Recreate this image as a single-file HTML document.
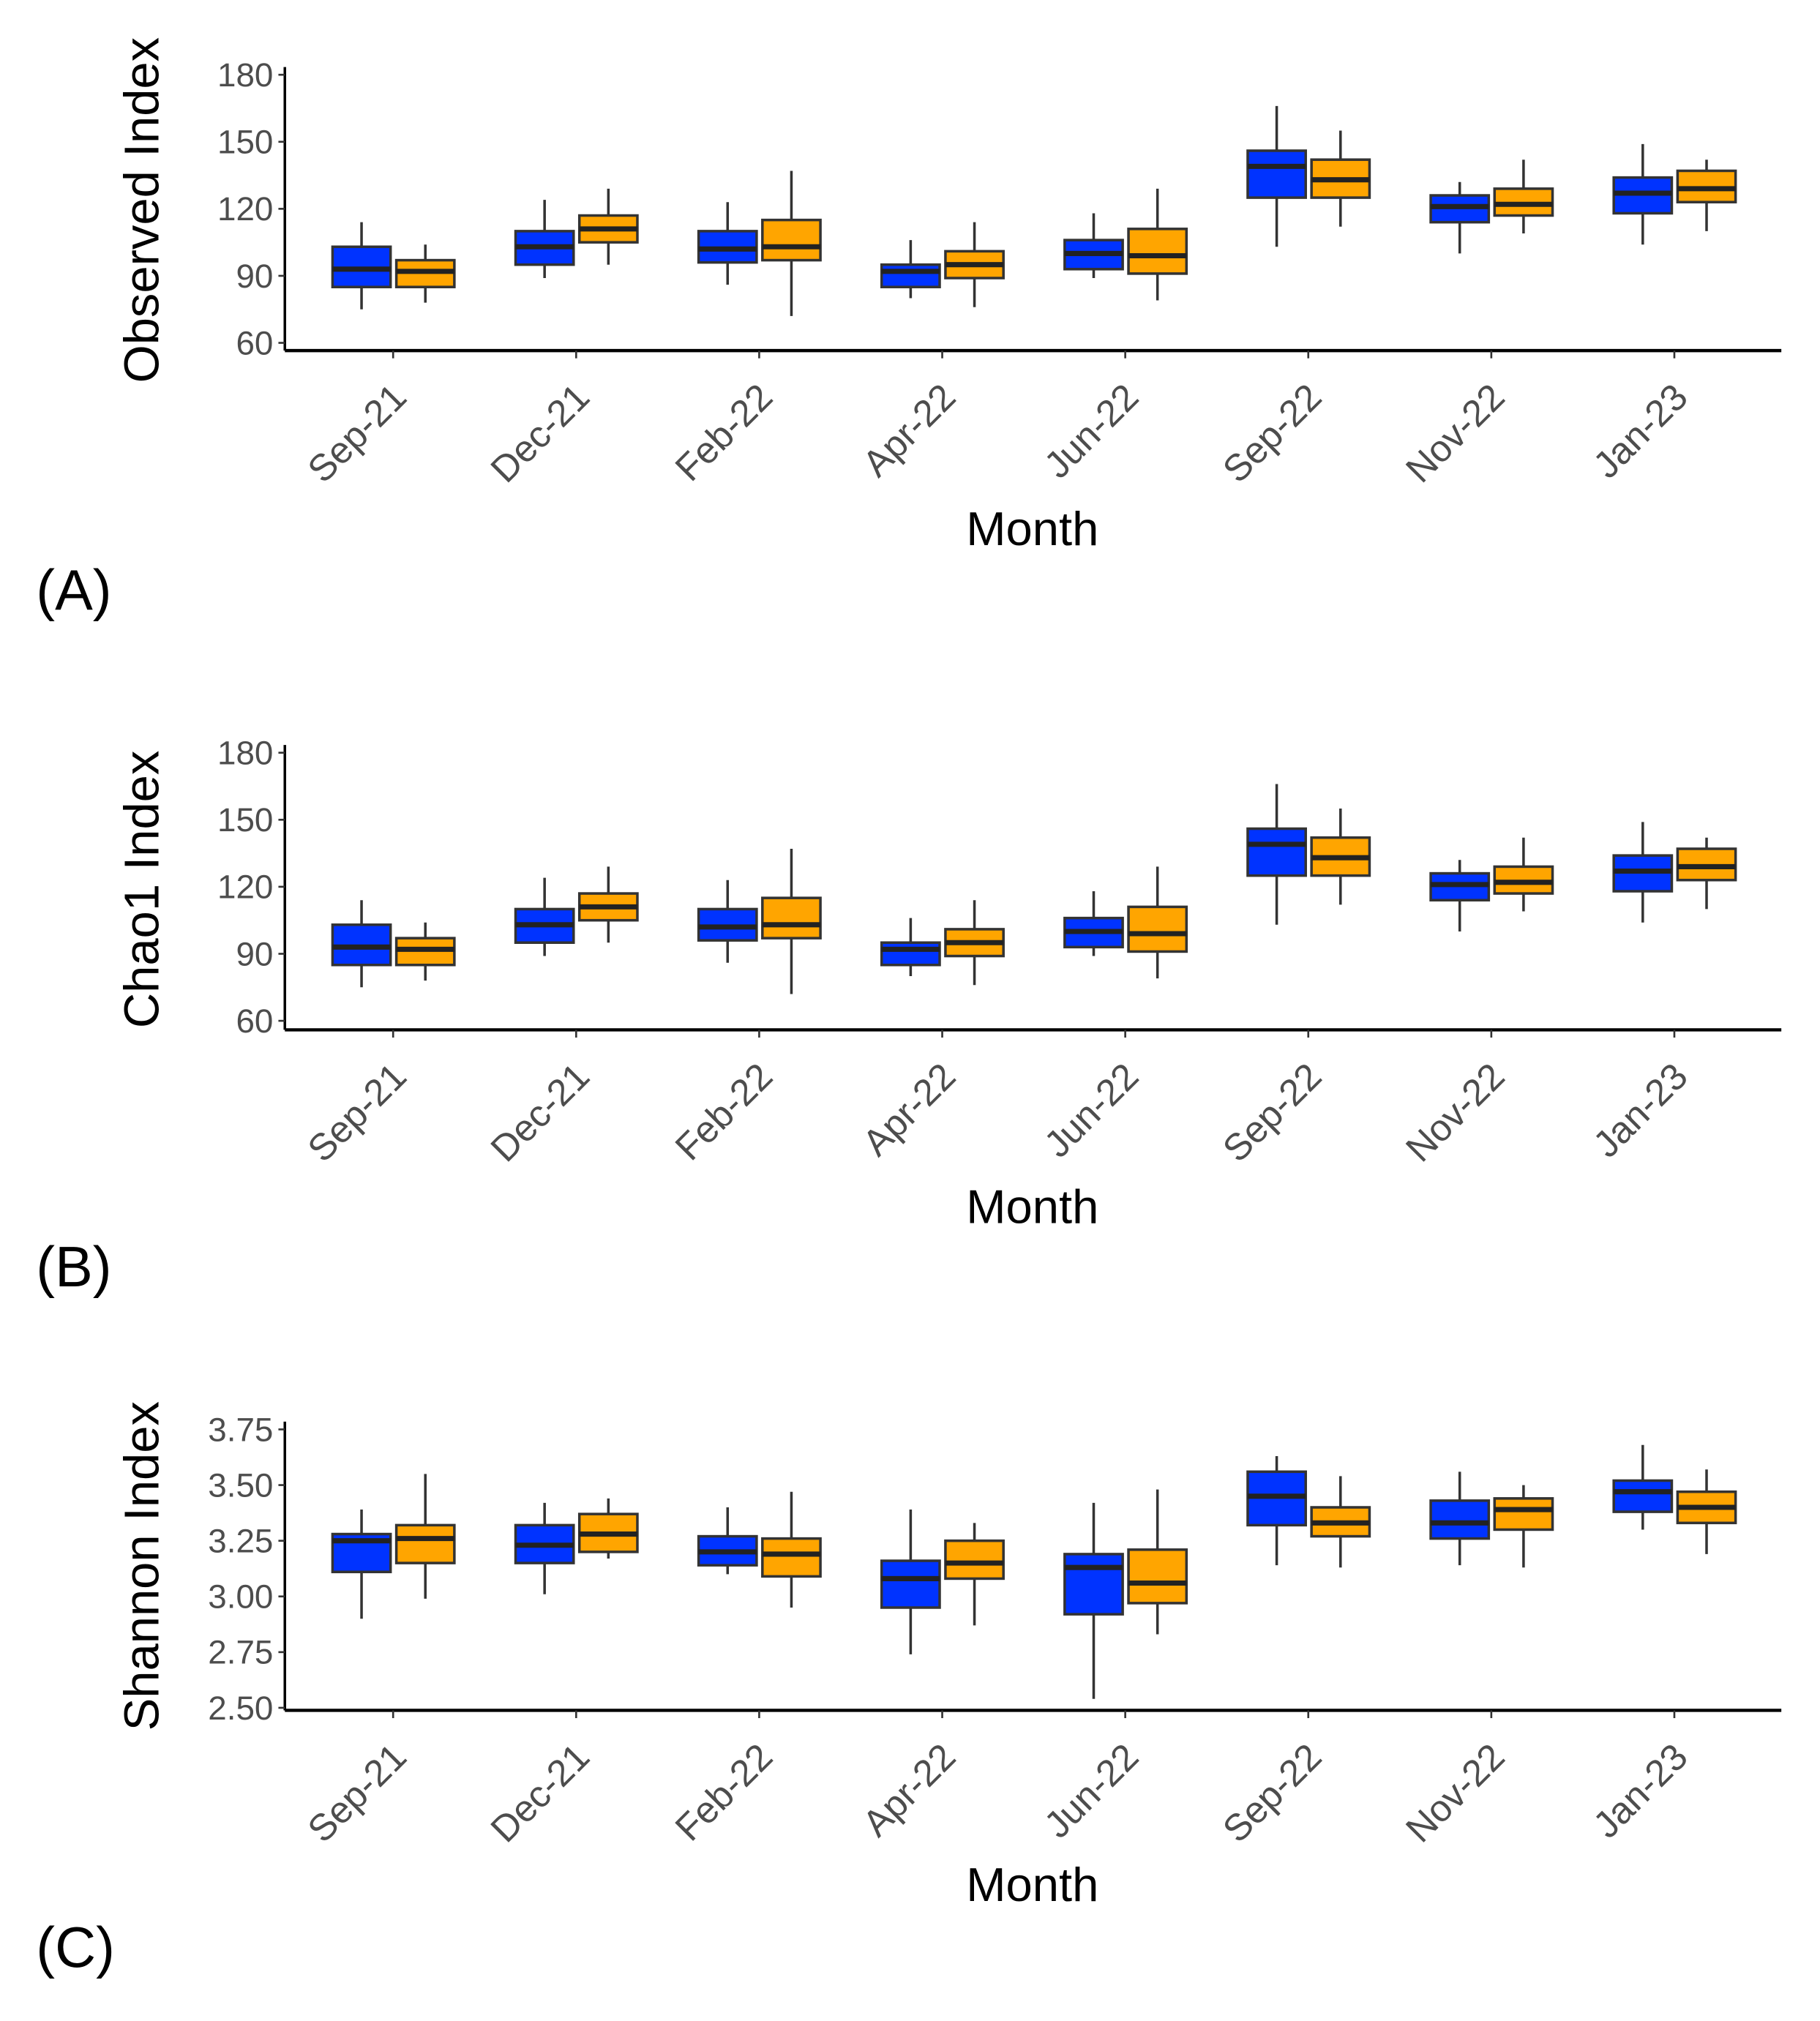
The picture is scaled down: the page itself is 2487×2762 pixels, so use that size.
<!DOCTYPE html>
<html><head><meta charset="utf-8"><style>
html,body{margin:0;padding:0;background:#fff;}
svg{display:block;}
text{font-family:"Liberation Sans",sans-serif;}
</style></head><body>
<svg id="fig" width="2487" height="2762" viewBox="0 0 1412 1568" preserveAspectRatio="none" xmlns="http://www.w3.org/2000/svg"></svg>
<script>
const categories = ["Sep-21","Dec-21","Feb-22","Apr-22","Jun-22","Sep-22","Nov-22","Jan-23"];
// [lower whisker, q1, median, q3, upper whisker]
const observedBlue = [[75,85,93,103,114],[89,95,103,110,124],[86,96,102,110,123],[80,85,92,95,106],[89,93,100,106,118],[103,125,139,146,166],[100,114,121,126,132],[104,118,127,134,149]];
const observedOrange = [[78,85,92,97,104],[95,105,111,117,129],[72,97,103,115,137],[76,89,95,101,114],[79,91,99,111,129],[112,125,133,142,155],[109,117,122,129,142],[110,123,129,137,142]];
const chaoBlue = [[75,85,93,103,114],[89,95,103,110,124],[86,96,102,110,123],[80,85,92,95,106],[89,93,100,106,118],[103,125,139,146,166],[100,114,121,126,132],[104,118,127,134,149]];
const chaoOrange = [[78,85,92,97,104],[95,105,111,117,129],[72,97,103,115,137],[76,89,95,101,114],[79,91,99,111,129],[112,125,133,142,155],[109,117,122,129,142],[110,123,129,137,142]];
const shannonBlue = [[2.90,3.11,3.25,3.28,3.39],[3.01,3.15,3.23,3.32,3.42],[3.10,3.14,3.20,3.27,3.40],[2.74,2.95,3.08,3.16,3.39],[2.54,2.92,3.13,3.19,3.42],[3.14,3.32,3.45,3.56,3.63],[3.14,3.26,3.33,3.43,3.56],[3.30,3.38,3.47,3.52,3.68]];
const shannonOrange = [[2.99,3.15,3.26,3.32,3.55],[3.17,3.20,3.28,3.37,3.44],[2.95,3.09,3.19,3.26,3.47],[2.87,3.08,3.15,3.25,3.33],[2.83,2.97,3.06,3.21,3.48],[3.13,3.27,3.33,3.40,3.54],[3.13,3.30,3.39,3.44,3.50],[3.19,3.33,3.40,3.47,3.57]];
const countTicks = [60,90,120,150,180];
const countTickLabels = ["60","90","120","150","180"];
const shannonTicks = [2.50,2.75,3.00,3.25,3.50,3.75];
const shannonTickLabels = ["2.50","2.75","3.00","3.25","3.50","3.75"];

const NS="http://www.w3.org/2000/svg";
const svg=document.getElementById('fig');
function mk(tag,attrs,parent){const e=document.createElementNS(NS,tag);for(const k in attrs)e.setAttribute(k,attrs[k]);(parent||svg).appendChild(e);return e;}

function panel(cfg){
  const g=mk('g',{});
  
  
  const x0=221, x1=1382, axisY=cfg.axisY;
  const y=v=>cfg.yTop+(cfg.vTop-v)/(cfg.vTop-cfg.vBot)*(cfg.yBot-cfg.yTop);
  const xc=i=>305+i*142;
  const ya=mk('line',{x1:x0,y1:cfg.yTop-6,x2:x0,y2:axisY,stroke:'#000','stroke-width':2},g);
  
  const xa=mk('line',{x1:x0,y1:axisY,x2:x1,y2:axisY,stroke:'#000','stroke-width':2.5},g);
  
  cfg.ticks.forEach((t,i)=>{
    mk('line',{x1:x0-5,y1:y(t),x2:x0,y2:y(t),stroke:'#333','stroke-width':1.5},g);
    const tx=mk('text',{x:x0-9,y:y(t)+9,'text-anchor':'end','font-size':26,fill:'#4d4d4d'},g);
    tx.textContent=cfg.tickLabels[i];
    
  });
  categories.forEach((c,i)=>{
    mk('line',{x1:xc(i),y1:axisY,x2:xc(i),y2:axisY+6,stroke:'#333','stroke-width':1.5},g);
    const ax=xc(i)+12, ay=axisY+38;
    const tx=mk('text',{x:ax,y:ay,'text-anchor':'end','font-size':29,fill:'#4d4d4d',transform:`rotate(-45 ${ax} ${ay})`},g);
    tx.textContent=c;
    
  });
  function drawBox(d,cx,fill,nm){
    const bg=mk('g',{},g);
    
    mk('line',{x1:cx,y1:y(d[0]),x2:cx,y2:y(d[4]),stroke:'#333','stroke-width':2},bg);
    mk('rect',{x:cx-22.5,y:y(d[3]),width:45,height:y(d[1])-y(d[3]),fill:fill,stroke:'#333','stroke-width':2},bg);
    mk('line',{x1:cx-22.5,y1:y(d[2]),x2:cx+22.5,y2:y(d[2]),stroke:'#222','stroke-width':4},bg);
  }
  categories.forEach((c,i)=>{
    drawBox(cfg.blue[i],xc(i)-24.5,'#0033ff','box-blue-'+c.toLowerCase());
    drawBox(cfg.orange[i],xc(i)+25,'#ffa500','box-orange-'+c.toLowerCase());
  });
  const yt=mk('text',{x:0,y:0,'text-anchor':'middle','font-size':38,fill:'#000',transform:`translate(123 ${cfg.titleY}) rotate(-90)`},g);
  yt.textContent=cfg.title;
  
  const xt=mk('text',{x:801,y:cfg.monthY,'text-anchor':'middle','font-size':37,fill:'#000'},g);
  xt.textContent='Month';
  
  const pl=mk('text',{x:28,y:cfg.labelY,'font-size':44,fill:'#000'},g);
  pl.textContent=cfg.label;
  
}
panel({name:'panel-observed',yTop:58,yBot:266,vTop:180,vBot:60,axisY:272,ticks:countTicks,tickLabels:countTickLabels,blue:observedBlue,orange:observedOrange,title:'Observed Index',titleY:163,monthY:423,labelY:473,label:'(A)'});
panel({name:'panel-chao1',yTop:584,yBot:792,vTop:180,vBot:60,axisY:799,ticks:countTicks,tickLabels:countTickLabels,blue:chaoBlue,orange:chaoOrange,title:'Chao1 Index',titleY:690,monthY:949,labelY:998,label:'(B)'});
panel({name:'panel-shannon',yTop:1109,yBot:1325,vTop:3.75,vBot:2.50,axisY:1327,ticks:shannonTicks,tickLabels:shannonTickLabels,blue:shannonBlue,orange:shannonOrange,title:'Shannon Index',titleY:1215,monthY:1475,labelY:1526,label:'(C)'});
</script>
</body></html>
